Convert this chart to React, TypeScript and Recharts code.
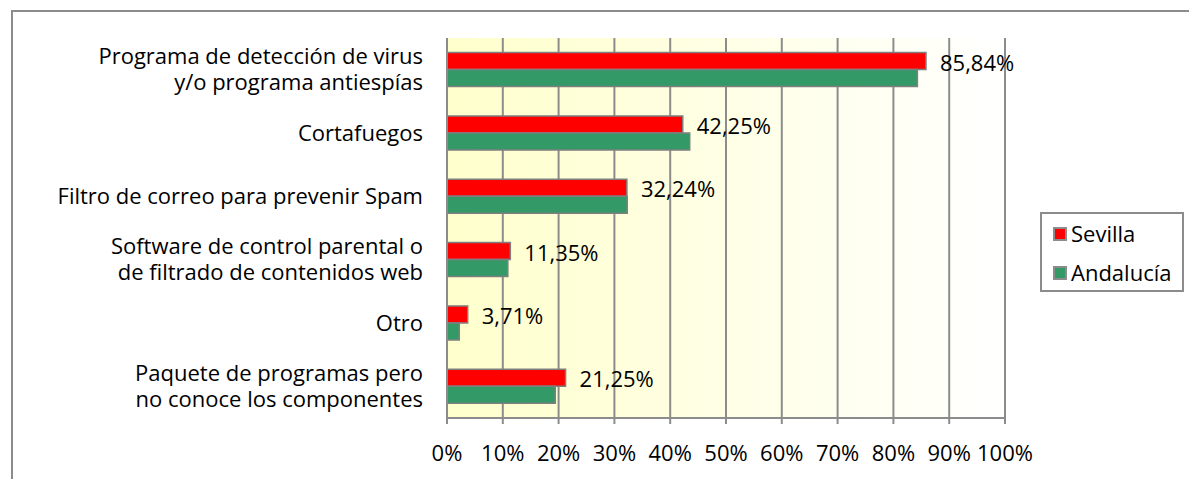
import React from "react";
import {
  BarChart,
  Bar,
  XAxis,
  YAxis,
  CartesianGrid,
  Legend,
  LabelList,
} from "recharts";

const categories = [
  "Programa de detección de virus\ny/o programa antiespías",
  "Cortafuegos",
  "Filtro de correo para prevenir Spam",
  "Software de control parental o\nde filtrado de contenidos web",
  "Otro",
  "Paquete de programas pero\nno conoce los componentes",
];
const sevilla = [85.84, 42.25, 32.24, 11.35, 3.71, 21.25];
const andalucia = [84.3, 43.5, 32.3, 10.9, 2.2, 19.4];
const xTicks = [0, 10, 20, 30, 40, 50, 60, 70, 80, 90, 100];
const boundaryTicks = [0, 1, 2, 3, 4, 5, 6];
const seriesNames = ["Sevilla", "Andalucía"];
const seriesColors = ["#FF0000", "#339966"];

const data = categories.map((name, i) => ({
  name,
  sevilla: sevilla[i],
  andalucia: andalucia[i],
}));

const FONT = "'Open Sans', sans-serif";
const GRAY = "#8c8c8c";
const FS = 22;

const YTick = (props: any) => {
  const { x, y, payload } = props;
  const lines = String(payload.value).split("\n");
  const lh = 26;
  return (
    <text x={x} y={y} textAnchor="end" fontSize={FS} fontFamily={FONT} fill="#000">
      {lines.map((l, i) => (
        <tspan key={i} x={x} dy={i === 0 ? -((lines.length - 1) * lh) / 2 + 7.5 : lh}>
          {l}
        </tspan>
      ))}
    </text>
  );
};

const fmt = (v: number) => v.toFixed(2).replace(".", ",") + "%";

const ValueLabel = (props: any) => {
  const { x, y, width, height, value } = props;
  return (
    <text
      x={x + width + 14}
      y={y + height / 2 + 9.5}
      fontSize={FS}
      fontFamily={FONT}
      fill="#000"
      textAnchor="start"
    >
      {fmt(value)}
    </text>
  );
};

const LegendBox = () => (
  <div
    style={{
      boxSizing: "border-box",
      width: 144,
      height: 80,
      border: `2px solid ${GRAY}`,
      background: "#fff",
      fontFamily: FONT,
      fontSize: FS,
      padding: "0 0 0 11px",
    }}
  >
    {seriesNames.map((n, i) => (
      <div
        key={n}
        style={{ display: "flex", alignItems: "center", height: 39, lineHeight: "39px" }}
      >
        <span
          style={{
            display: "inline-block",
            width: 10,
            height: 10,
            background: seriesColors[i],
            border: `2px solid ${GRAY}`,
            marginRight: 4,
          }}
        />
        <span>{n}</span>
      </div>
    ))}
  </div>
);

export default function App() {
  return (
    <div style={{ position: "relative", width: 1189, height: 471, overflow: "hidden" }}>
      <div
        style={{
          position: "absolute",
          left: 3,
          top: 2,
          width: 1400,
          height: 700,
          border: `2px solid ${GRAY}`,
          boxSizing: "border-box",
        }}
      />
      <div style={{ position: "absolute", left: 0, top: 0 }}>
        <BarChart
          width={1189}
          height={471}
          data={data}
          layout="vertical"
          margin={{ top: 30, right: 192, bottom: 0, left: 0 }}
          barCategoryGap="23%"
          barGap={0}
        >
          <defs>
            <linearGradient id="plotBg" x1="0" y1="0" x2="1" y2="0">
              <stop offset="0%" stopColor="#FFFFCC" />
              <stop offset="100%" stopColor="#FFFFFF" />
            </linearGradient>
          </defs>
          <CartesianGrid
            horizontal={false}
            vertical={true}
            stroke={GRAY}
            strokeWidth={2}
            fill="url(#plotBg)"
            xAxisId="main"
            yAxisId="cat"
          />
          <XAxis
            xAxisId="main"
            type="number"
            domain={[0, 100]}
            ticks={xTicks}
            interval={0}
            tickFormatter={(v: number) => `${v}%`}
            tick={{ fontSize: FS, fontFamily: FONT, fill: "#000" }}
            stroke={GRAY}
            strokeWidth={2}
            tickSize={6}
            tickMargin={21}
            height={61}
          />
          <XAxis
            xAxisId="top"
            orientation="top"
            type="number"
            domain={[0, 100]}
            tick={false}
            tickLine={false}
            stroke={GRAY}
            strokeWidth={2}
            height={0}
          />
          <YAxis
            yAxisId="bounds"
            type="number"
            domain={[0, 6]}
            ticks={boundaryTicks}
            interval={0}
            tick={false}
            axisLine={false}
            tickLine={{ stroke: GRAY, strokeWidth: 2 }}
            tickSize={6}
            width={0}
          />
          <YAxis
            yAxisId="cat"
            type="category"
            dataKey="name"
            tick={<YTick />}
            interval={0}
            tickLine={false}
            tickSize={0}
            tickMargin={24}
            stroke={GRAY}
            strokeWidth={2}
            width={439}
          />
          <Legend
            layout="horizontal"
            verticalAlign="middle"
            align="center"
            wrapperStyle={{ left: 1032, top: 204, width: 144, height: 80 }}
            content={<LegendBox />}
          />
          <Bar
            xAxisId="main"
            yAxisId="cat"
            dataKey="sevilla"
            name={seriesNames[0]}
            fill={seriesColors[0]}
            stroke="#7f7f7f"
            strokeWidth={1.5}
            isAnimationActive={false}
          >
            <LabelList dataKey="sevilla" content={<ValueLabel />} />
          </Bar>
          <Bar
            xAxisId="main"
            yAxisId="cat"
            dataKey="andalucia"
            name={seriesNames[1]}
            fill={seriesColors[1]}
            stroke="#7f7f7f"
            strokeWidth={1.5}
            isAnimationActive={false}
          />
        </BarChart>
      </div>
    </div>
  );
}
